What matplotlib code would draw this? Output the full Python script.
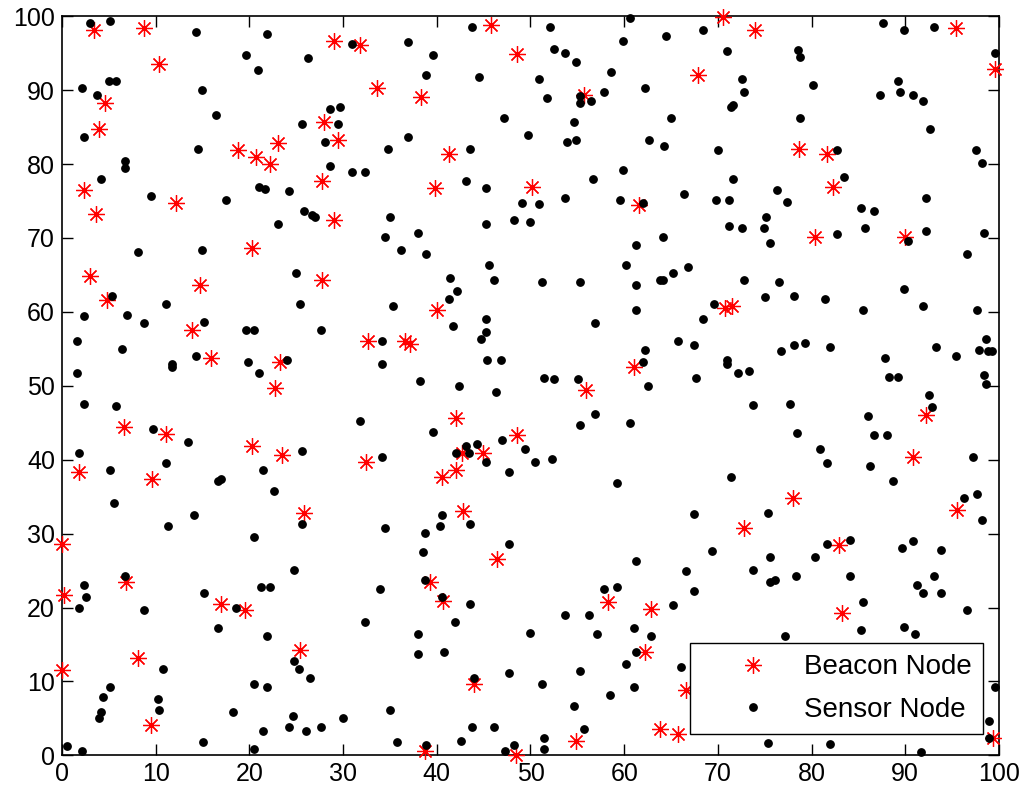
import matplotlib
matplotlib.use('Agg')
import matplotlib.pyplot as plt
from matplotlib.ticker import MultipleLocator

# beacon nodes (red asterisks)
beacon_x = [3.45, 8.75, 10.35, 4.6, 3.9, 23.1, 18.8, 20.7, 22.2, 2.3, 3.6, 12.2, 20.3,
            29.0, 31.8, 45.8, 48.6, 33.65, 38.3, 28.0, 29.5, 41.3, 27.7, 39.8, 29.0,
            70.5, 73.95, 67.9, 55.75, 50.2, 61.6,
            95.4, 99.6, 78.65, 81.6, 82.25, 80.4, 90.0,
            3.0, 14.7, 4.84, 13.84, 15.86, 23.3, 22.73, 6.65, 11.06, 20.3, 23.44, 1.8, 9.64,
            27.8, 40.05, 32.7, 36.6, 37.1, 42.1, 48.6, 42.65, 44.97, 32.4, 42.1, 40.55,
            70.75, 71.5, 61.1, 55.95,
            92.2, 90.8, 78.05,
            0.0, 6.83, 0.25, 17.0, 19.5, 8.07, 0.04, 9.5,
            25.8, 42.8, 46.4, 39.3, 40.7, 25.4, 44.0, 38.7, 48.5,
            72.8, 58.3, 62.9, 62.2, 66.6, 63.8, 65.7, 54.85,
            95.5, 82.96, 83.2, 99.4]
beacon_y = [98.1, 98.4, 93.5, 88.3, 84.7, 82.9, 81.9, 80.9, 80.0, 76.5, 73.3, 74.8, 68.7,
            96.7, 96.1, 98.8, 94.9, 90.3, 89.1, 85.7, 83.3, 81.3, 77.7, 76.8, 72.5,
            99.95, 98.1, 92.1, 89.4, 76.85, 74.5,
            98.4, 92.9, 82.0, 81.3, 76.85, 70.1, 70.1,
            64.8, 63.7, 61.65, 57.6, 53.8, 53.2, 49.7, 44.4, 43.5, 41.8, 40.6, 38.3, 37.4,
            64.3, 60.2, 56.1, 56.1, 55.7, 45.6, 43.3, 40.9, 40.9, 39.7, 38.6, 37.7,
            60.5, 60.8, 52.6, 49.4,
            46.1, 40.3, 34.8,
            28.6, 23.4, 21.65, 20.5, 19.6, 13.2, 11.6, 4.06,
            32.8, 33.0, 26.6, 23.4, 20.9, 14.3, 9.6, 0.54, 0.1,
            30.7, 20.7, 19.8, 14.0, 8.8, 3.5, 2.9, 2.0,
            33.2, 28.5, 19.2, 2.4]

# sensor nodes (black dots)
sensor_x = [3.0, 5.1, 14.3, 21.9, 19.6, 20.9, 5.0, 5.8, 2.1, 3.7, 14.9, 16.4, 2.3, 14.5, 6.7, 6.7,
            4.2, 21.0, 21.7, 24.2, 9.5, 17.5, 23.0, 8.1, 14.9,
            26.3, 30.9, 36.9, 39.6, 43.8, 38.9, 44.5, 28.6, 29.7, 25.6, 29.5, 28.1, 36.9, 34.8,
            43.5, 47.2, 49.7, 28.6, 30.9, 32.3, 43.1, 45.2, 49.1, 48.2, 49.9, 45.2, 25.8, 26.7,
            27.0, 35.0, 34.5, 38.0, 36.2, 38.9,
            52.1, 60.6, 59.9, 64.5, 68.4, 52.5, 53.7, 54.9, 71.0, 50.9, 58.6, 72.6, 62.2, 57.8,
            72.8, 51.8, 55.3, 55.3, 56.5, 71.6, 71.4, 65.0, 54.6, 53.9, 54.9, 62.7, 64.3, 70.0,
            59.9, 56.7, 71.6, 66.4, 53.7, 59.5, 62.0, 69.8, 71.2, 50.9, 71.2, 72.6, 74.9, 64.1, 61.3,
            87.6, 89.9, 93.1, 99.6, 78.6, 78.8, 80.2, 89.2, 89.4, 87.3, 90.8, 91.9, 92.6, 78.8,
            82.7, 97.5, 98.2, 83.5, 76.3, 77.4, 92.2, 85.3, 86.7, 75.1, 75.6, 82.7, 85.7, 92.2,
            98.4, 90.3, 96.6,
            25.0, 5.3, 11.1, 2.3, 6.9, 8.8, 15.2, 19.6, 20.5, 1.6, 6.4, 11.7, 11.7, 14.3, 19.8,
            21.0, 24.0, 1.6, 2.3, 5.8, 9.7, 13.4, 1.8, 5.1, 11.1, 16.6, 17.0, 21.4, 22.6, 5.5,
            45.6, 41.4, 46.1, 42.2, 41.3, 25.4, 35.3, 27.6, 45.2, 45.2, 41.7, 44.7, 34.1, 34.1,
            45.4, 46.8, 38.2, 42.4, 46.3, 31.8, 39.6, 25.6, 34.1, 47.0, 49.4, 44.3, 43.1, 42.0,
            43.4, 45.2, 47.7,
            60.2, 66.8, 51.2, 55.3, 61.3, 63.8, 64.1, 65.2, 72.8, 75.0, 69.6, 61.3, 68.4, 56.9,
            65.7, 67.5, 62.2, 62.0, 71.0, 71.0, 72.1, 73.3, 51.4, 52.5, 55.1, 67.7, 62.5, 73.7,
            56.9, 55.3, 60.6, 50.5, 52.3, 59.2, 71.4,
            76.5, 78.1, 81.4, 89.9, 91.9, 85.5, 97.7, 76.7, 78.1, 79.3, 82.0, 87.8, 93.3, 95.4,
            98.6, 97.9, 98.8, 99.3, 88.3, 89.2, 98.4, 98.6, 92.5, 92.9, 77.7, 86.0, 78.4, 86.7,
            88.0, 80.9, 81.6, 86.2, 97.2, 88.7, 97.7, 96.3,
            14.1, 11.3, 20.5, 24.8, 6.7, 2.3, 2.6, 1.8, 15.2, 21.2, 22.2, 8.8, 18.6, 16.6, 21.9,
            24.8, 10.8, 5.1, 4.4, 4.2, 3.9, 10.2, 10.4, 20.5, 21.9, 18.2, 24.6, 24.2, 21.4, 15.0,
            0.5, 2.1, 20.5,
            25.6, 34.5, 40.6, 40.3, 38.7, 43.5, 47.7, 38.5, 33.9, 38.7, 40.6, 43.5, 32.3, 41.9,
            38.0, 38.0, 40.8, 49.9, 25.3, 26.5, 44.0, 47.7, 35.0, 30.0, 26.0, 27.6, 43.8, 46.1,
            35.7, 42.6, 38.9, 48.2, 47.3,
            67.5, 69.4, 73.7, 61.3, 66.6, 67.5, 57.8, 59.2, 65.2, 53.7, 56.2, 57.1, 61.1, 62.9,
            61.3, 60.2, 66.1, 55.3, 51.2, 61.1, 58.5, 54.6, 55.7, 51.4, 51.4,
            98.2, 75.4, 81.6, 84.1, 89.7, 90.8, 93.8, 75.6, 80.4, 75.6, 76.1, 78.3, 84.1, 93.1,
            91.2, 91.9, 93.8, 85.5, 96.6, 77.2, 85.3, 89.9, 91.0, 99.6, 98.9, 75.4, 82.0, 91.7, 98.9]
sensor_y = [99.1, 99.4, 97.9, 97.6, 94.7, 92.7, 91.2, 91.2, 90.3, 89.4, 90.0, 86.6, 83.6, 82.1, 80.4, 79.5,
            78.0, 76.9, 76.6, 76.3, 75.7, 75.1, 71.9, 68.1, 68.4,
            94.4, 96.2, 96.5, 94.7, 98.5, 92.1, 91.8, 87.4, 87.7, 85.4, 85.4, 83.0, 83.6, 82.1,
            82.1, 86.2, 83.9, 79.8, 78.9, 78.9, 77.7, 76.8, 74.8, 72.5, 72.2, 71.9, 73.7, 73.1,
            72.8, 72.8, 70.1, 70.7, 68.4, 67.8,
            98.5, 99.7, 96.7, 97.3, 98.2, 95.6, 95.0, 93.8, 95.3, 91.5, 92.4, 91.5, 90.3, 89.8,
            89.8, 88.9, 89.2, 88.3, 88.6, 88.0, 87.7, 86.2, 85.7, 83.0, 83.3, 83.3, 82.5, 81.9,
            79.2, 78.0, 78.0, 76.0, 75.4, 75.1, 74.8, 75.1, 75.1, 74.6, 71.6, 71.4, 71.4, 70.2, 69.0,
            99.1, 98.2, 98.5, 95.0, 95.4, 94.5, 90.7, 91.2, 89.8, 89.4, 89.4, 88.6, 84.8, 86.2,
            81.9, 81.9, 80.1, 78.3, 76.5, 74.9, 75.4, 74.0, 73.7, 72.8, 69.3, 70.5, 71.4, 71.0,
            70.7, 69.6, 67.8,
            65.2, 62.2, 61.1, 59.4, 59.6, 58.5, 58.7, 57.6, 57.6, 56.1, 55.0, 52.9, 52.5, 54.1, 53.2,
            51.7, 53.5, 51.7, 47.6, 47.3, 44.2, 42.4, 40.9, 38.6, 39.5, 37.1, 37.4, 38.6, 35.7, 34.1,
            66.4, 64.6, 64.3, 62.8, 61.7, 61.1, 60.8, 57.6, 59.0, 57.3, 58.1, 56.4, 56.1, 52.9,
            53.5, 53.5, 50.6, 50.0, 49.1, 45.3, 43.8, 41.2, 40.3, 42.7, 41.5, 42.1, 41.8, 40.9,
            40.9, 39.7, 38.3,
            66.4, 66.1, 64.0, 64.0, 63.7, 64.3, 64.3, 65.2, 64.3, 62.0, 61.1, 60.2, 59.0, 58.5,
            56.1, 55.5, 54.9, 53.2, 53.5, 52.9, 51.7, 52.0, 51.1, 50.9, 50.9, 51.1, 50.0, 47.4,
            46.2, 44.7, 45.0, 39.7, 40.1, 36.9, 37.7,
            64.0, 62.2, 61.7, 63.1, 60.8, 60.2, 60.2, 54.7, 55.5, 55.8, 55.2, 53.8, 55.2, 54.1,
            56.4, 54.9, 54.7, 54.7, 51.2, 51.2, 51.5, 50.3, 48.8, 47.1, 47.6, 45.9, 43.6, 43.3,
            43.3, 41.5, 39.5, 39.2, 40.4, 37.1, 35.4, 34.8,
            32.5, 31.0, 29.5, 25.1, 24.3, 23.1, 21.4, 19.9, 21.9, 22.8, 22.8, 19.6, 19.9, 17.2, 16.1,
            12.8, 11.7, 9.3, 7.9, 5.9, 5.0, 7.6, 6.1, 9.7, 9.3, 5.9, 5.3, 3.8, 3.3, 1.8,
            1.2, 0.6, 0.9,
            31.3, 30.7, 32.5, 31.0, 30.1, 31.3, 28.6, 27.5, 22.5, 23.7, 21.4, 20.5, 18.1, 18.1,
            16.4, 13.7, 14.0, 16.6, 11.7, 10.5, 10.5, 11.1, 6.1, 5.0, 3.3, 3.8, 3.8, 3.8,
            1.8, 2.0, 1.4, 1.4, 0.6,
            32.7, 27.7, 25.1, 26.3, 24.9, 22.2, 22.5, 22.8, 20.4, 19.0, 19.0, 16.4, 17.2, 16.1,
            14.0, 12.3, 12.0, 11.4, 9.7, 9.3, 8.2, 6.7, 3.5, 2.4, 0.9,
            31.9, 32.8, 28.6, 29.2, 28.1, 29.0, 27.8, 26.9, 26.9, 23.4, 23.7, 24.2, 24.2, 24.2,
            23.1, 21.9, 21.9, 20.8, 19.6, 16.1, 17.0, 17.3, 16.4, 9.3, 4.7, 1.7, 1.5, 0.5, 2.4]

plt.rcParams['font.family'] = ['Liberation Sans', 'DejaVu Sans']

fig = plt.figure(figsize=(10.27, 7.94), dpi=100)
ax = fig.add_axes([0.0604, 0.0487, 0.9123, 0.9308])

ax.plot(beacon_x, beacon_y, linestyle='none', marker=(8, 2, 0), markersize=12,
        markeredgewidth=0.9, color='red', label='Beacon Node', clip_on=False, zorder=3)
ax.plot(sensor_x, sensor_y, linestyle='none', marker='o', markersize=5.3,
        color='black', label='Sensor Node', clip_on=False, zorder=4)

ax.set_xlim(0, 100)
ax.set_ylim(0, 100)
ax.xaxis.set_major_locator(MultipleLocator(10))
ax.yaxis.set_major_locator(MultipleLocator(10))
ax.tick_params(direction='in', length=8, width=1, top=True, right=True,
               labelsize=18, pad=5)
for s in ax.spines.values():
    s.set_linewidth(1.2)

leg = ax.legend(loc='lower right', bbox_to_anchor=(0.983, 0.0288), borderaxespad=0,
                fontsize=20, fancybox=False, edgecolor='black', framealpha=1,
                handlelength=3.7, handletextpad=0.0, borderpad=0.4, labelspacing=0.6)
leg.get_frame().set_linewidth(1.0)
leg.set_zorder(10)

fig.savefig('out.png', dpi=100)
